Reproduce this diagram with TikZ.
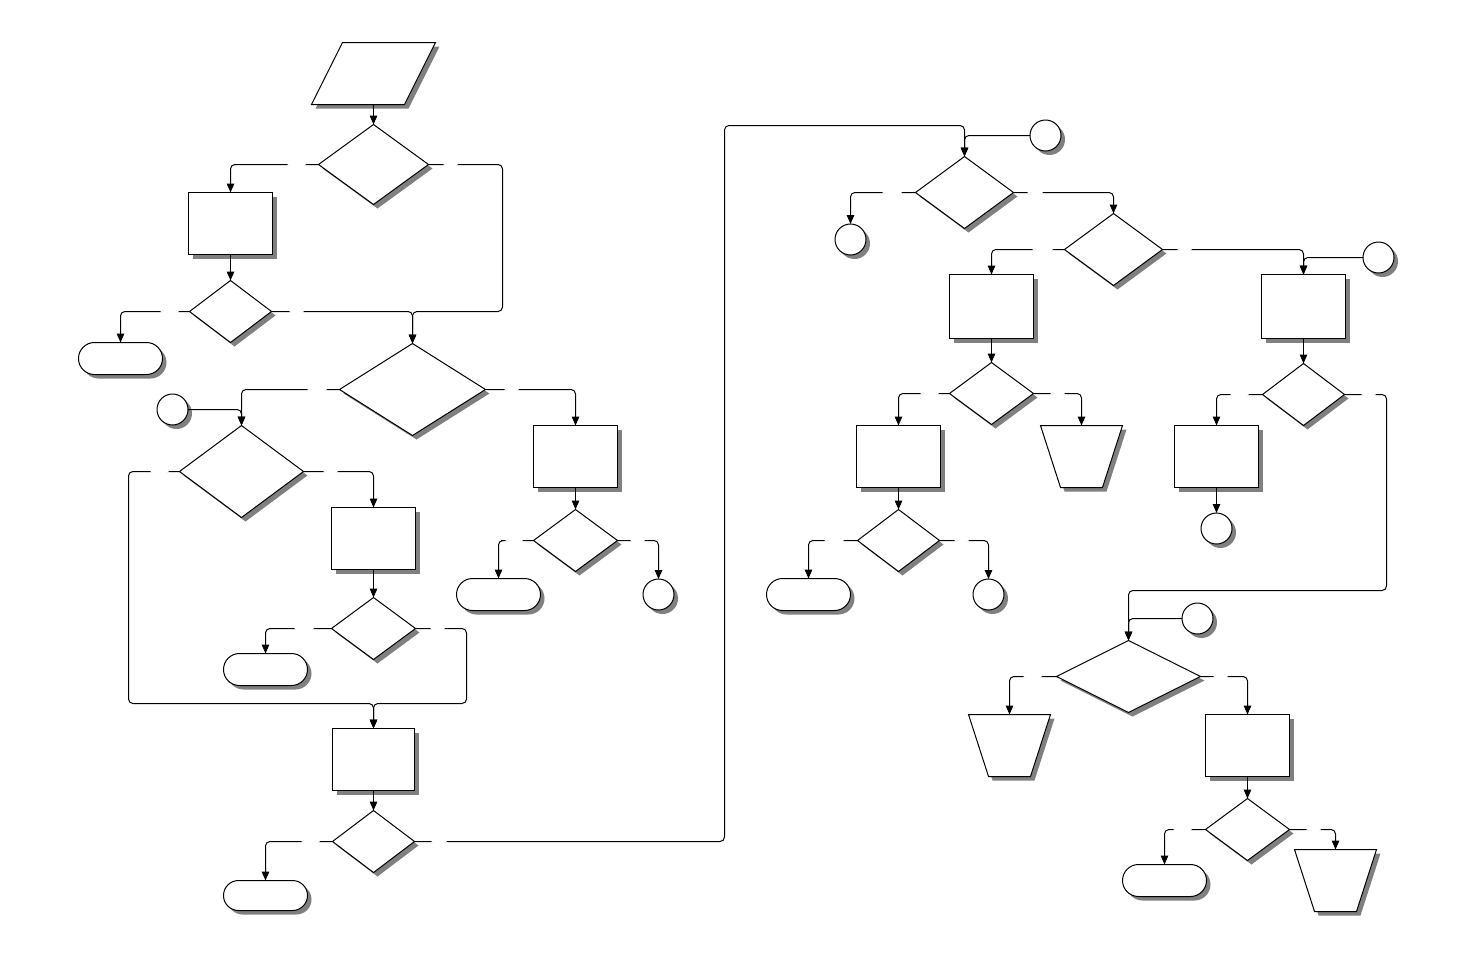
\documentclass[tikz,border=0pt]{standalone}
\usetikzlibrary{shapes.geometric,shapes.misc,arrows.meta}
\begin{document}
\begin{tikzpicture}[x=0.02cm,y=-0.02cm,line width=0.57pt,
  shbase/.style={draw, fill=white, inner sep=0pt, outer sep=0pt, line width=0.57pt,
    preaction={draw=none, fill=black!50, transform canvas={shift={(4,4)}}}},
  sz/.style 2 args={minimum width=#1*0.02cm, minimum height=#2*0.02cm},
  shbox/.style={shbase, rectangle},
  shdec/.style={shbase, diamond},
  shterm/.style={shbase, rounded rectangle},
  shcirc/.style={shbase, circle, minimum size=0.62cm},
  shhold/.style={inner sep=0pt, outer sep=0pt},
  gapl/.style={fill=white, inner sep=0pt, outer sep=0pt, minimum height=0.1cm, minimum width=#1*0.02cm, pos=1, anchor=west},
  gapr/.style={fill=white, inner sep=0pt, outer sep=0pt, minimum height=0.1cm, minimum width=#1*0.02cm, pos=1, anchor=east},
  wire/.style={draw, rounded corners=2.5pt, line width=0.57pt},
  wirea/.style={wire, -{Triangle[length=5pt,width=4.2pt]}},
]
\useasboundingbox (0,0) rectangle (1475,954);
\begin{scope}[shift={(0.5,0.5)}]
% ---- input parallelogram
\node[shhold, sz={124}{62}] (P) at (373,73) {};
\path[shbase] ([shift={(-31,-31)}]P.center) -- ([shift={(62,-31)}]P.center)
  -- ([shift={(31,31)}]P.center) -- ([shift={(-62,31)}]P.center) -- cycle;
% ---- left part
\node[shdec, sz={110}{80}] (D1) at (373,164) {};
\node[shbox, sz={84}{62}] (B1) at (230,223) {};
\node[shdec, sz={82}{62}] (D2) at (230,311) {};
\node[shterm, sz={84}{32}] (T1) at (120,358) {};
\node[shdec, sz={146}{92}] (D3) at (412,389) {};
\node[shcirc] (C1) at (172,409) {};
\node[shdec, sz={124}{92}] (D4) at (241,471) {};
\node[shbox, sz={84}{62}] (B2) at (373,538) {};
\node[shdec, sz={84}{62}] (D5) at (373,628) {};
\node[shterm, sz={84}{32}] (T2) at (265,669) {};
\node[shbox, sz={82}{62}] (B4) at (373,759) {};
\node[shdec, sz={82}{62}] (D6) at (373,841) {};
\node[shterm, sz={84}{30}] (T3) at (265,895) {};
\node[shbox, sz={84}{62}] (B3) at (575,456) {};
\node[shdec, sz={84}{62}] (D8) at (575,540) {};
\node[shterm, sz={84}{32}] (T4) at (498,594) {};
\node[shcirc] (C2) at (658,594) {};
% ---- right part
\node[shcirc] (C3) at (1045,135) {};
\node[shdec, sz={98}{72}] (D7) at (964,192) {};
\node[shcirc] (C4) at (850,239) {};
\node[shdec, sz={98}{72}] (D9) at (1113,249) {};
\node[shbox, sz={84}{64}] (B5) at (991,306) {};
\node[shdec, sz={84}{62}] (D10) at (991,393) {};
\node[shbox, sz={84}{62}] (B6) at (898,456) {};
\node[shhold, sz={82}{62}] (Tr1) at (1081,456) {};
\path[shbase] ([shift={(-41,-31)}]Tr1.center) -- ([shift={(41,-31)}]Tr1.center)
  -- ([shift={(21,31)}]Tr1.center) -- ([shift={(-21,31)}]Tr1.center) -- cycle;
\node[shdec, sz={82}{62}] (D11) at (898,540) {};
\node[shterm, sz={84}{32}] (T5) at (808,594) {};
\node[shcirc] (C5) at (988,594) {};
\node[shcirc] (C6) at (1378,257) {};
\node[shbox, sz={84}{64}] (B7) at (1303,306) {};
\node[shdec, sz={82}{62}] (D12) at (1303,394) {};
\node[shbox, sz={84}{62}] (B8) at (1216,456) {};
\node[shcirc] (C7) at (1216,528) {};
\node[shcirc] (C8) at (1197,618) {};
\node[shdec, sz={144}{72}] (D13) at (1128,676) {};
\node[shhold, sz={82}{62}] (Tr2) at (1009,745) {};
\path[shbase] ([shift={(-41,-31)}]Tr2.center) -- ([shift={(41,-31)}]Tr2.center)
  -- ([shift={(21,31)}]Tr2.center) -- ([shift={(-21,31)}]Tr2.center) -- cycle;
\node[shbox, sz={84}{62}] (B9) at (1247,745) {};
\node[shdec, sz={84}{62}] (D14) at (1247,829) {};
\node[shterm, sz={84}{32}] (T6) at (1164,880) {};
\node[shhold, sz={82}{62}] (Tr3) at (1335,880) {};
\path[shbase] ([shift={(-41,-31)}]Tr3.center) -- ([shift={(41,-31)}]Tr3.center)
  -- ([shift={(21,31)}]Tr3.center) -- ([shift={(-21,31)}]Tr3.center) -- cycle;
% ---- connectors left
\draw[wirea] (D1.north |- P.south) -- (D1.north);
\draw[wirea] (D1.west) -- node[gapl=18]{} ++(-31,0) -| (B1.north);
\draw[wirea] (D1.east) -- node[gapr=14]{} ++(29,0) -- (502,164) -- (502,311) -| (D3.north);
\draw[wirea] (B1.south) -- (D2.north);
\draw[wirea] (D2.west) -- node[gapl=18]{} ++(-29,0) -| (T1.north);
\draw[wirea] (D2.east) -- node[gapr=14]{} ++(32,0) -| (D3.north);
\draw[wirea] (D3.west) -- node[gapl=19]{} ++(-32,0) -| (D4.north);
\draw[wirea] (C1.east) -| (D4.north);
\draw[wirea] (D3.east) -- node[gapr=14]{} ++(33,0) -| (B3.north);
\draw[wirea] (D4.west) -- node[gapl=18]{} ++(-29,0) -- (128,471) -- (128,703) -| (B4.north);
\draw[wirea] (D4.east) -- node[gapr=14]{} ++(34,0) -| (B2.north);
\draw[wirea] (B2.south) -- (D5.north);
\draw[wirea] (D5.west) -- node[gapl=19]{} ++(-37,0) -| (T2.north);
\draw[wirea] (D5.east) -- node[gapr=14]{} ++(29,0) -- (466,628) -- (466,703) -| (B4.north);
\draw[wirea] (B4.south) -- (D6.north);
\draw[wirea] (D6.west) -- node[gapl=18]{} ++(-31,0) -| (T3.north);
\draw[wirea] (D6.east) -- node[gapr=15]{} ++(32,0) -- (724,841) -- (724,125) -| (D7.north);
\draw[wirea] (B3.south) -- (D8.north);
\draw[wirea] (D8.west) -- node[gapl=17]{} ++(-28,0) -| (T4.north);
\draw[wirea] (D8.east) -- node[gapr=14]{} ++(27,0) -| (C2.north);
% ---- connectors right
\draw[wirea] (C3.west) -| (D7.north);
\draw[wirea] (D7.west) -- node[gapl=19]{} ++(-33,0) -| (C4.north);
\draw[wirea] (D7.east) -- node[gapr=15]{} ++(29,0) -| (D9.north);
\draw[wirea] (D9.west) -- node[gapl=20]{} ++(-32,0) -| (B5.north);
\draw[wirea] (D9.east) -- node[gapr=14]{} ++(29,0) -| (B7.north);
\draw[wirea] (C6.west) -| (B7.north);
\draw[wirea] (B5.south) -- (D10.north);
\draw[wirea] (D10.west) -- node[gapl=18]{} ++(-29,0) -| (B6.north);
\draw[wirea] (D10.east) -- node[gapr=14]{} ++(31,0) -| (Tr1.north);
\draw[wirea] (B6.south) -- (D11.north);
\draw[wirea] (D11.west) -- node[gapl=19]{} ++(-33,0) -| (T5.north);
\draw[wirea] (D11.east) -- node[gapr=14]{} ++(29,0) -| (C5.north);
\draw[wirea] (B7.south) -- (D12.north);
\draw[wirea] (D12.west) -- node[gapl=18]{} ++(-32,0) -| (B8.north);
\draw[wirea] (B8.south) -- (C7.north);
\draw[wirea] (D12.east) -- node[gapr=14]{} ++(31,0) -- (1386,394) -- (1386,590) -| (D13.north);
\draw[wirea] (C8.west) -| (D13.north);
\draw[wirea] (D13.west) -- node[gapl=18]{} ++(-33,0) -| (Tr2.north);
\draw[wirea] (D13.east) -- node[gapr=14]{} ++(27,0) -| (B9.north);
\draw[wirea] (B9.south) -- (D14.north);
\draw[wirea] (D14.west) -- node[gapl=18]{} ++(-32,0) -| (T6.north);
\draw[wirea] (D14.east) -- node[gapr=14]{} ++(31,0) -| (Tr3.north);
\end{scope}
\end{tikzpicture}
\end{document}
